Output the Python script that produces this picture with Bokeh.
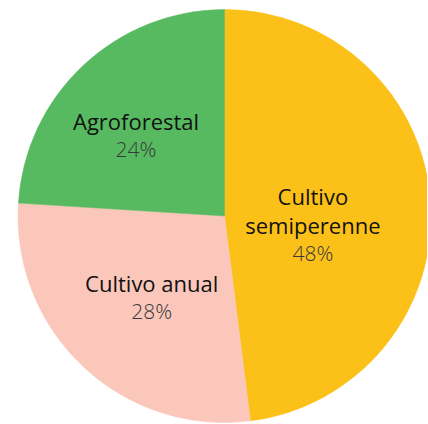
import math
from bokeh.plotting import figure
from bokeh.models import ColumnDataSource, Range1d
from bokeh.core.properties import value
from bokeh.embed import file_html
from bokeh.resources import INLINE

# ---- data ----
categories = ["Cultivo semiperenne", "Cultivo anual", "Agroforestal"]
name_lines = [["Cultivo", "semiperenne"], ["Cultivo anual"], ["Agroforestal"]]
shares = [48, 28, 24]
pct_labels = ["48%", "28%", "24%"]

# ---- style ----
colors = ["#FCC118", "#FAC7BA", "#57BA60"]
label_r = [0.43, 0.53, 0.58]        # label distance as fraction of radius
label_turn = [9.1, -1.5, -4.4]      # small angular nudges (deg, clockwise)
W, H = 427, 423
CX, CY, R = 224, 207.5, 206.5
LINE_GAP = 29

p = figure(width=W, height=H, output_backend="svg", toolbar_location=None,
           x_range=Range1d(0, W), y_range=Range1d(0, H), min_border=0)
p.axis.visible = False
p.grid.visible = False
p.outline_line_color = None
p.background_fill_color = "white"

total = sum(shares)
starts, ends, mids = [], [], []
acc = 0.0
for s in shares:
    a0 = acc / total * 360.0
    acc += s
    a1 = acc / total * 360.0
    # clockwise from 12 o'clock -> bokeh counter-clockwise from +x
    starts.append(math.radians(90 - a1))
    ends.append(math.radians(90 - a0))
    mids.append((a0 + a1) / 2)

wsrc = ColumnDataSource(dict(x=[CX] * len(shares), y=[CY] * len(shares),
                             start=starts, end=ends, color=colors, cat=categories))
p.wedge(x="x", y="y", radius=R, start_angle="start", end_angle="end",
        fill_color="color", line_color="color", line_width=0.5, source=wsrc)

nx, ny, nt = [], [], []
px, py, pt = [], [], []
for i, cat in enumerate(categories):
    ang = math.radians(mids[i] + label_turn[i])
    ax = CX + label_r[i] * R * math.sin(ang)
    ay = CY + label_r[i] * R * math.cos(ang)
    lines = name_lines[i]
    n = len(lines) + 1
    for j, ln in enumerate(lines):
        nx.append(ax)
        ny.append(ay - (j - (n - 1) / 2) * LINE_GAP)
        nt.append(ln)
    px.append(ax)
    py.append(ay - (n - 1 - (n - 1) / 2) * LINE_GAP + 1)
    pt.append(pct_labels[i])

p.text(x=nx, y=ny, text=nt, text_align="center", text_baseline="middle",
       text_font=value("Open Sans"), text_font_size="22px", text_color="#111111")
p.text(x=px, y=py, text=pt, text_align="center", text_baseline="middle",
       text_font=value("'Open Sans Light', 'Open Sans'"), text_font_size="21px",
       text_color="#3a3a3a")

open("out.html", "w").write(file_html(p, INLINE))
